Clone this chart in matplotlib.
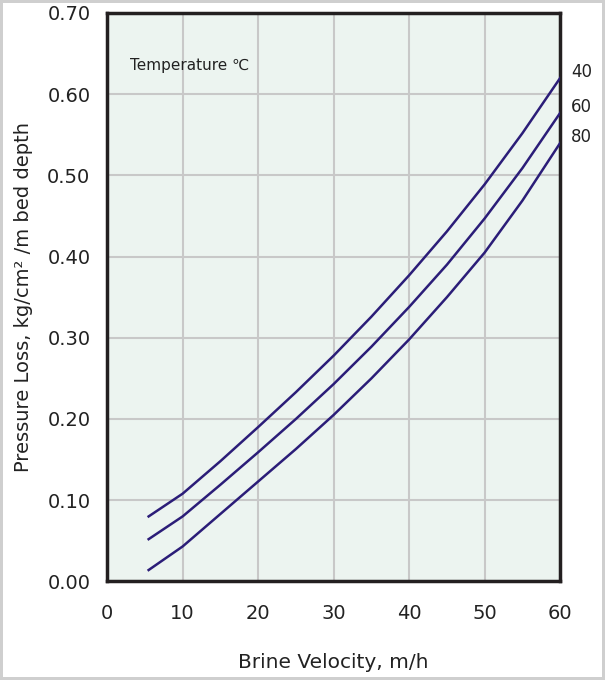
import matplotlib.pyplot as plt

# values
velocity = [5.5, 10, 15, 20, 25, 30, 35, 40, 45, 50, 55, 60]
loss_40 = [0.080, 0.108, 0.148, 0.190, 0.233, 0.278, 0.326, 0.377, 0.431, 0.489, 0.552, 0.620]
loss_60 = [0.052, 0.080, 0.119, 0.159, 0.200, 0.243, 0.289, 0.338, 0.390, 0.447, 0.509, 0.577]
loss_80 = [0.014, 0.043, 0.083, 0.123, 0.163, 0.205, 0.250, 0.298, 0.350, 0.405, 0.469, 0.540]
temps = ['40', '60', '80']

x_ticks = [0, 10, 20, 30, 40, 50, 60]
y_ticks = [0.0, 0.1, 0.2, 0.3, 0.4, 0.5, 0.6, 0.7]

line_color = '#2b1d78'
fig = plt.figure(figsize=(6.05, 6.8), dpi=100)
fig.patch.set_edgecolor('#cfcfcf')
fig.patch.set_linewidth(3)
ax = fig.add_axes([0.177, 0.145, 0.749, 0.836])
ax.set_facecolor('#ecf4f0')

for series in [loss_40, loss_60, loss_80]:
    ax.plot(velocity, series, color=line_color, lw=1.8, solid_joinstyle='round', zorder=3)

for t, series in zip(temps, [loss_40, loss_60, loss_80]):
    ax.annotate(t, xy=(60, series[-1]), xytext=(8, 4), textcoords='offset points',
                fontsize=12, color='#222222', va='center', ha='left', annotation_clip=False)

ax.text(3.0, 0.635, 'Temperature ℃', fontsize=11, color='#222222', va='center')

ax.set_xlim(0, 60)
ax.set_ylim(0, 0.7)
ax.set_xticks(x_ticks)
ax.set_yticks(y_ticks)
ax.set_yticklabels(['{:.2f}'.format(v) for v in y_ticks])
ax.grid(True, color='#c8c8c8', lw=1.5)
ax.set_axisbelow(True)
ax.tick_params(length=0, labelsize=14, colors='#222222')
ax.tick_params(axis='x', pad=16)
ax.tick_params(axis='y', pad=12)
for s in ax.spines.values():
    s.set_linewidth(2.5)
    s.set_color('#231f20')

ax.set_xlabel('Brine Velocity, m/h', fontsize=14.5, color='#222222', labelpad=22)
ax.set_ylabel('Pressure Loss, kg/cm² /m bed depth', fontsize=14, color='#222222', labelpad=10)

fig.savefig('out.png', dpi=100, edgecolor=fig.get_edgecolor())
